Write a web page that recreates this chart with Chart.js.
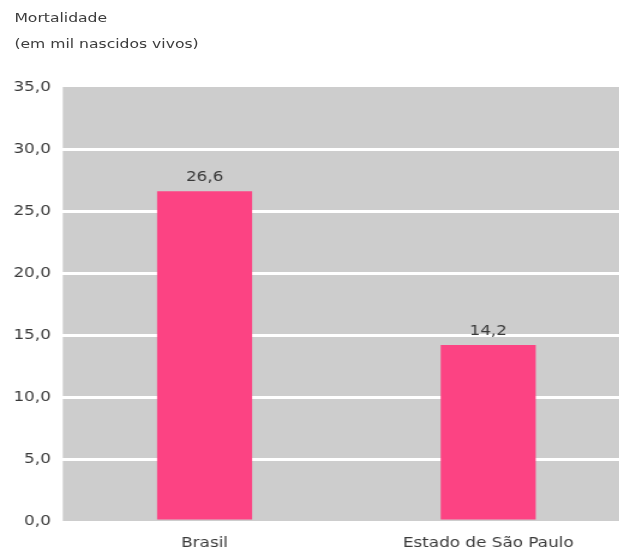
<!DOCTYPE html>
<html lang="pt-BR">

<head>
    <meta charset="UTF-8">
    <title>Mortalidade infantil</title>
    <style>
        html, body {
            margin: 0;
            padding: 0;
            width: 619px;
            height: 549px;
            overflow: hidden;
            background: #ffffff;
        }

        /* chart is drawn narrow and stretched sideways, like the printed figure */
        #wrap {
            position: absolute;
            left: 0;
            top: 0;
            width: 525px;
            height: 549px;
            transform: scaleX(1.2);
            transform-origin: 0 0;
        }

        .titulo {
            position: absolute;
            left: 12px;
            font-family: 'DejaVu Sans', sans-serif;
            font-size: 13px;
            color: #3c3c3c;
            white-space: nowrap;
        }
    </style>
</head>

<body>
    <div id="wrap">
        <div class="titulo" style="top: 10px;">Mortalidade</div>
        <div class="titulo" style="top: 36px;">(em mil nascidos vivos)</div>
        <canvas id="mortalidadeChart"></canvas>
    </div>

    <script src="https://cdn.jsdelivr.net/npm/chart.js"></script>
    <script>
    const categorias = ['Brasil', 'Estado de São Paulo'];
    const mortalidade = [26.6, 14.2];
    const eixoMin = 0;
    const eixoMax = 35;
    const eixoPasso = 5;

    const fonte = 'DejaVu Sans';
    const corTexto = '#3a3a3a';

    function virgula(v) {
        return Number(v).toFixed(1).replace('.', ',');
    }

    // fundo cinza da área do gráfico
    const fundoCinza = {
        id: 'fundoCinza',
        beforeDraw(chart) {
            const { ctx, chartArea } = chart;
            ctx.save();
            ctx.fillStyle = '#cdcdcd';
            ctx.fillRect(chartArea.left, chartArea.top, chartArea.right - chartArea.left, chartArea.bottom - chartArea.top);
            ctx.restore();
        }
    };

    // valores escritos acima das barras
    const rotulosBarras = {
        id: 'rotulosBarras',
        afterDatasetsDraw(chart) {
            const { ctx } = chart;
            const meta = chart.getDatasetMeta(0);
            ctx.save();
            ctx.font = '14px "' + fonte + '"';
            ctx.fillStyle = corTexto;
            ctx.textAlign = 'center';
            ctx.textBaseline = 'alphabetic';
            meta.data.forEach((barra, i) => {
                ctx.fillText(virgula(mortalidade[i]), barra.x, barra.y - 10);
            });
            ctx.restore();
        }
    };

    const ctx = document.getElementById('mortalidadeChart').getContext('2d');

    new Chart(ctx, {
        type: 'bar',
        data: {
            labels: categorias,
            datasets: [{
                data: mortalidade,
                backgroundColor: '#fc4383',
                borderWidth: 0,
                barPercentage: 0.335,
                categoryPercentage: 1.0,
            }],
        },
        options: {
            responsive: true,
            maintainAspectRatio: false,
            animation: false,
            layout: {
                padding: { top: 87, right: 0, left: 0, bottom: 0 },
            },
            plugins: {
                legend: { display: false },
                tooltip: { enabled: false },
            },
            scales: {
                x: {
                    grid: { display: false, drawTicks: false },
                    border: { display: false },
                    ticks: {
                        color: corTexto,
                        padding: 14,
                        font: { family: fonte, size: 14 },
                    },
                    afterFit(scale) {
                        scale.height = 28;
                    },
                },
                y: {
                    min: eixoMin,
                    max: eixoMax,
                    grid: {
                        drawTicks: false,
                        lineWidth: 3,
                        color: (c) => (c.tick && (c.tick.value === eixoMin || c.tick.value === eixoMax)) ? 'rgba(0,0,0,0)' : '#ffffff',
                    },
                    border: { display: false },
                    ticks: {
                        stepSize: eixoPasso,
                        color: corTexto,
                        padding: 10,
                        font: { family: fonte, size: 14 },
                        callback: (v) => virgula(v),
                    },
                    afterFit(scale) {
                        scale.width = 52.3;
                    },
                },
            },
        },
        plugins: [fundoCinza, rotulosBarras],
    });
    </script>
</body>

</html>
